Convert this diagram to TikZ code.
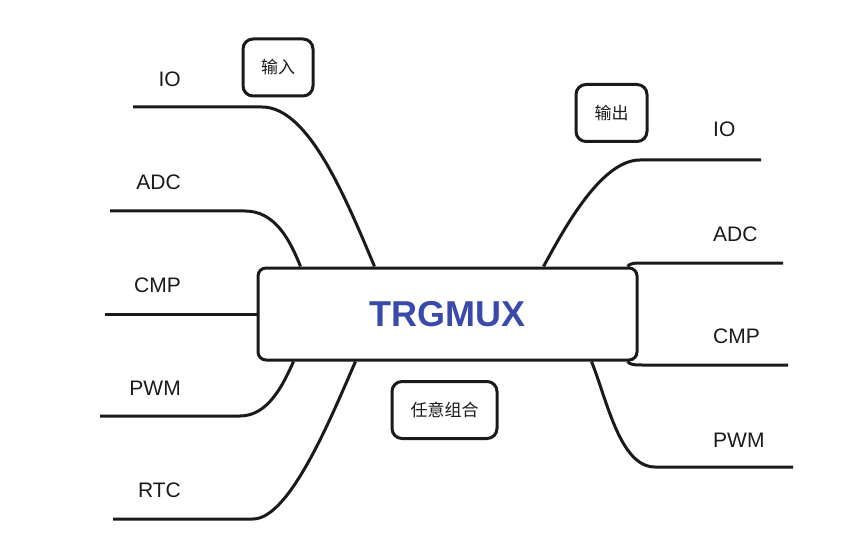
\documentclass[tikz,border=0pt]{standalone}
\usepackage{fontspec}
\setmainfont{Liberation Sans}
\newfontfamily\cjk{Noto Sans CJK SC}
\usetikzlibrary{calc,positioning}
\definecolor{Ink}{HTML}{1A1A1A}
\definecolor{Indigo}{HTML}{3A4AAB}

\begin{document}
\begin{tikzpicture}[x=1pt, y=-1pt,
    core/.style={draw=Ink, line width=3pt, rounded corners=8pt, minimum width=379pt, minimum height=92pt, inner sep=0pt, text=Indigo, font=\fontsize{36}{40}\selectfont\bfseries},
    tag/.style={draw=Ink, line width=3pt, rounded corners=10pt, minimum height=57pt, inner sep=0pt, text=Ink, font=\cjk\fontsize{17}{19}\selectfont},
    topic/.style={inner sep=0pt, text=Ink, font=\fontsize{21}{24}\selectfont},
    branch/.style={draw=Ink, line width=3pt}]
    \useasboundingbox (0,0) rectangle (861,553);

    % centre and notes
    \node[core] (mux) at (447.5,314) {TRGMUX};
    \node[tag, minimum width=70pt] (in) at (278,67.5) {输入};
    \node[tag, minimum width=71pt] (out) at (611.5,113) {输出};
    \node[tag, minimum width=105pt] (any) at (444.5,410) {任意组合};

    % free ends of the branches
    \coordinate (lio) at (133,107);
    \coordinate (ladc) at (110,211);
    \coordinate (lcmp) at (105,314);
    \coordinate (lpwm) at (100,416);
    \coordinate (lrtc) at (113,519);
    \coordinate (rio) at (761,160);
    \coordinate (radc) at (783,263);
    \coordinate (rcmp) at (788,365);
    \coordinate (rpwm) at (793,467);

    % labels
    \node[topic, anchor=base east] (tlio) at (181,87) {IO};
    \node[topic, anchor=base east] (tladc) at (181,190) {ADC};
    \node[topic, anchor=base east] (tlcmp) at (181,292) {CMP};
    \node[topic, anchor=base east] (tlpwm) at (181,395) {PWM};
    \node[topic, anchor=base east] (tlrtc) at (181,497) {RTC};
    \node[topic, anchor=base west] (trio) at (713,137) {IO};
    \node[topic, anchor=base west] (tradc) at (713,241) {ADC};
    \node[topic, anchor=base west] (trcmp) at (713,343) {CMP};
    \node[topic, anchor=base west] (trpwm) at (713,447) {PWM};

    % input side
    \draw[branch] (lio) -- (262,107) .. controls (308,107) and (344.5,195) .. ($(mux.north west)+(118,0)$);
    \draw[branch] (ladc) -- (245,211) .. controls (275,211) and (290,240) .. ($(mux.north west)+(44,0)$);
    \draw[branch] (lcmp) -- (mux.west);
    \draw[branch] (lpwm) -- (240,416) .. controls (268,416) and (283,385) .. ($(mux.south west)+(37,0)$);
    \draw[branch] (lrtc) -- (253,519) .. controls (290,519) and (332,415) .. ($(mux.south west)+(99,0)$);

    % output side
    \draw[branch] (rio) -- (640,160) .. controls (600,160) and (562,233) .. ($(mux.north east)+(-95,0)$);
    \draw[branch] (radc) -- (642,263) .. controls (635,263) and (630,263) .. ($(mux.north east)+(-11,0)$);
    \draw[branch] (rcmp) -- (642,365) .. controls (635,365) and (630,365) .. ($(mux.south east)+(-11,0)$);
    \draw[branch] (rpwm) -- (655,467) .. controls (620,467) and (607,400) .. ($(mux.south east)+(-47,0)$);
  \end{tikzpicture}
\end{document}
